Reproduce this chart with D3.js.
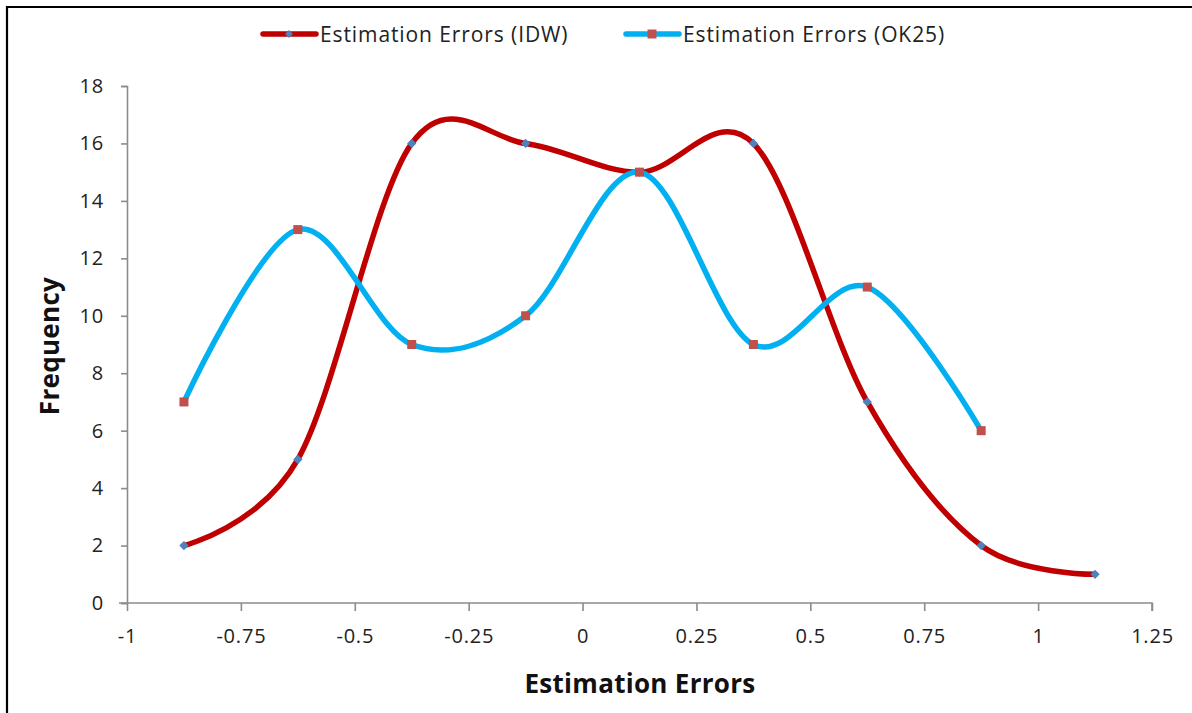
<!DOCTYPE html>
<html>
<head>
<meta charset="utf-8">
<script src="https://cdn.jsdelivr.net/npm/d3@7"></script>
<style>
  html, body { margin: 0; padding: 0; background: #fff; }
  svg { display: block; font-family: "Open Sans", "Noto Sans", sans-serif; }
</style>
</head>
<body>
<svg id="chart" width="1192" height="713"></svg>
<script>
// Bin centres of the estimation errors
const idwBins = [-0.875, -0.625, -0.375, -0.125, 0.125, 0.375, 0.625, 0.875, 1.125];
const idwFreq = [2, 5, 16, 16, 15, 16, 7, 2, 1];
const ok25Bins = [-0.875, -0.625, -0.375, -0.125, 0.125, 0.375, 0.625, 0.875];
const ok25Freq = [7, 13, 9, 10, 15, 9, 11, 6];
const xTicks = [-1, -0.75, -0.5, -0.25, 0, 0.25, 0.5, 0.75, 1, 1.25];
const yTicks = [0, 2, 4, 6, 8, 10, 12, 14, 16, 18];
const seriesNames = ["Estimation Errors (IDW)", "Estimation Errors (OK25)"];

const svg = d3.select("#chart");

// Frame lines (top and left)
svg.append("line").attr("x1", 6).attr("x2", 1192).attr("y1", 7).attr("y2", 7)
  .attr("stroke", "#000").attr("stroke-width", 2.2);
svg.append("line").attr("x1", 7).attr("x2", 7).attr("y1", 6).attr("y2", 713)
  .attr("stroke", "#000").attr("stroke-width", 2.2);

const x = d3.scaleLinear().domain([-1, 1.25]).range([127, 1152]);
const y = d3.scaleLinear().domain([0, 18]).range([603, 86]);

const axisColor = "#8c8c8c";

// Y axis
const yAxis = svg.append("g").attr("transform", `translate(${x(-1)},0)`)
  .call(d3.axisLeft(y).tickValues(yTicks).tickSize(6).tickPadding(17).tickFormat(d3.format("d")));
// X axis
const xAxis = svg.append("g").attr("transform", `translate(0,${y(0)})`)
  .call(d3.axisBottom(x).tickValues(xTicks).tickSize(8).tickPadding(18).tickFormat(d => String(d)));

[xAxis, yAxis].forEach(g => {
  g.select(".domain").attr("stroke", axisColor).attr("stroke-width", 1.6);
  g.selectAll(".tick line").attr("stroke", axisColor).attr("stroke-width", 1.6);
  g.selectAll(".tick text").attr("fill", "#222").attr("font-size", 20)
    .attr("letter-spacing", 0.8)
    .attr("font-family", "'Open Sans', sans-serif");
});
// extend the x axis domain slightly left to meet the y ticks
xAxis.select(".domain").attr("d", `M${x(-1) - 8},0H${x(1.25)}V8`);
xAxis.selectAll(".tick").filter(d => d === -1).select("line").attr("y1", 0);

// Axis titles
svg.append("text").attr("x", 640).attr("y", 693).attr("text-anchor", "middle")
  .attr("font-size", 26).attr("font-weight", "bold").attr("fill", "#111")
  .attr("letter-spacing", 0.3)
  .text("Estimation Errors");
svg.append("text").attr("transform", "translate(59,346) rotate(-90)")
  .attr("text-anchor", "middle").attr("font-size", 26).attr("font-weight", "bold").attr("fill", "#111")
  .attr("letter-spacing", 0.3)
  .text("Frequency");

// Smoothed lines
const line = d3.line().x(d => x(d[0])).y(d => y(d[1])).curve(d3.curveCardinal.tension(0));

const idwPts = idwBins.map((b, i) => [b, idwFreq[i]]);
const okPts = ok25Bins.map((b, i) => [b, ok25Freq[i]]);

const red = "#c00000", blue = "#00b0f0";
const markerBlue = "#4f81bd", markerRed = "#c0504d";

svg.append("path").datum(idwPts).attr("d", line).attr("fill", "none")
  .attr("stroke", red).attr("stroke-width", 5.5).attr("stroke-linecap", "round");
svg.append("path").datum(okPts).attr("d", line).attr("fill", "none")
  .attr("stroke", blue).attr("stroke-width", 5.5).attr("stroke-linecap", "round");

// Markers: diamonds for IDW, squares for OK25
svg.append("g").selectAll("path").data(idwPts).join("path")
  .attr("transform", d => `translate(${x(d[0])},${y(d[1])})`)
  .attr("d", d3.symbol(d3.symbolDiamond2, 55)).attr("fill", markerBlue);
svg.append("g").selectAll("rect").data(okPts).join("rect")
  .attr("x", d => x(d[0]) - 4.5).attr("y", d => y(d[1]) - 4.5)
  .attr("width", 9).attr("height", 9).attr("fill", markerRed);

// Legend
const legend = svg.append("g");
const items = [
  { name: seriesNames[0], color: red, marker: "diamond", x0: 263 },
  { name: seriesNames[1], color: blue, marker: "square", x0: 626 }
];
items.forEach(it => {
  const g = legend.append("g").attr("transform", `translate(${it.x0},34)`);
  g.append("line").attr("x1", 0).attr("x2", 53).attr("y1", 0).attr("y2", 0)
    .attr("stroke", it.color).attr("stroke-width", 5.5).attr("stroke-linecap", "round");
  if (it.marker === "diamond") {
    g.append("path").attr("transform", "translate(26,0)")
      .attr("d", d3.symbol(d3.symbolDiamond2, 40)).attr("fill", markerBlue);
  } else {
    g.append("rect").attr("x", 21.5).attr("y", -4.5).attr("width", 9).attr("height", 9).attr("fill", markerRed);
  }
  g.append("text").attr("x", 57).attr("y", 7.5).attr("font-size", 21).attr("fill", "#222")
    .attr("letter-spacing", 0.9)
    .text(it.name);
});
</script>
</body>
</html>
